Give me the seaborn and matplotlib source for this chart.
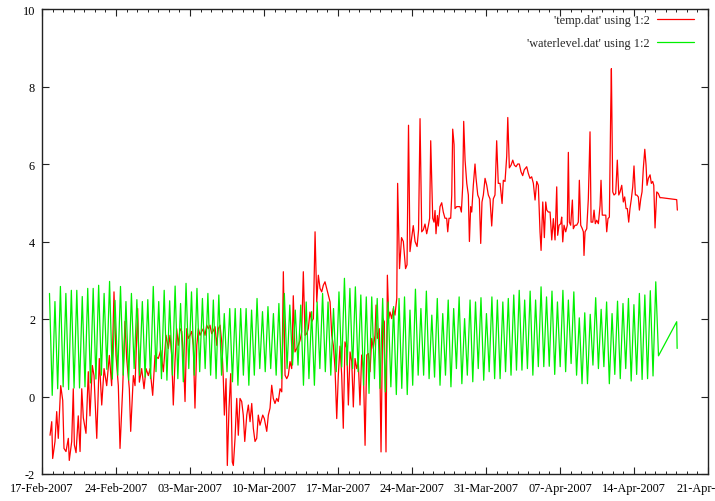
import numpy as np
import pandas as pd
import matplotlib
matplotlib.use("Agg")
import matplotlib.pyplot as plt
import matplotlib.dates as mdates
import seaborn as sns

# ---------------- data ----------------
start = pd.Timestamp("2007-02-17")

temp_days = [0.76, 0.92, 1.01, 1.23, 1.39, 1.54, 1.77, 1.96, 2.08, 2.27, 2.49, 2.58, 2.81, 2.96, 3.06, 3.22,
             3.43, 3.60, 3.76, 3.91, 4.16, 4.38, 4.54, 4.76, 4.92, 5.18, 5.42, 5.65, 5.87, 6.12, 6.37, 6.59,
             6.81, 7.00, 7.22, 7.38, 7.63, 7.85, 8.01, 8.26, 8.39, 8.64, 8.80, 9.05, 9.21, 9.43, 9.65, 9.84,
             10.06, 10.22, 10.47, 10.69, 11.00, 11.23, 11.48, 11.73, 11.95, 12.11, 12.27, 12.42, 12.58, 12.74,
             12.89, 13.06, 13.22, 13.37, 13.53, 13.69, 13.84, 14.00, 14.16, 14.31, 14.47, 14.64, 14.79, 14.95,
             15.11, 15.26, 15.42, 15.58, 15.73, 15.89, 16.05, 16.21, 16.37, 16.53, 16.68, 16.84, 17.00, 17.15,
             17.25, 17.41, 17.53, 17.69, 17.85, 18.00, 18.10, 18.26, 18.42, 18.57, 18.73, 18.89, 19.04, 19.18,
             19.37, 19.52, 19.68, 19.84, 19.99, 20.15, 20.31, 20.46, 20.62, 20.88, 21.03, 21.26, 21.41, 21.57,
             21.73, 21.88, 22.04, 22.20, 22.35, 22.52, 22.68, 22.83, 22.99, 23.15, 23.30, 23.46, 23.62, 23.77,
             23.93, 24.10, 24.25, 24.41, 24.57, 24.72, 24.88, 25.04, 25.19, 25.35, 25.51, 25.67, 25.83, 25.99,
             26.14, 26.30, 26.46, 26.61, 26.77, 26.93, 27.08, 27.25, 27.41, 27.56, 27.72, 27.88, 28.03, 28.19,
             28.35, 28.50, 28.66, 28.83, 28.98, 29.14, 29.30, 29.45, 29.61, 29.77, 29.92, 30.08, 30.24, 30.40,
             30.56, 30.72, 30.87, 31.03, 31.19, 31.34, 31.50, 31.60, 31.72, 31.91, 32.07, 32.23, 32.38, 32.54,
             32.67, 32.80, 32.92, 33.08, 33.23, 33.39, 33.56, 33.64, 33.82, 34.01, 34.18, 34.39, 34.53, 34.67,
             34.81, 34.97, 35.12, 35.29, 35.48, 35.62, 35.76, 35.92, 36.07, 36.23, 36.39, 36.54, 36.67, 36.77,
             36.96, 37.08, 37.18, 37.27, 37.40, 37.49, 37.65, 37.81, 37.96, 38.12, 38.28, 38.38, 38.50, 38.66,
             38.76, 38.85, 38.98, 39.07, 39.23, 39.38, 39.54, 39.67, 39.80, 39.89, 40.02, 40.18, 40.33, 40.43,
             40.55, 40.65, 40.80, 40.96, 41.06, 41.22, 41.37, 41.50, 41.62, 41.75, 41.91, 42.07, 42.22, 42.38,
             42.54, 42.69, 42.85, 43.01, 43.16, 43.33, 43.52, 43.64, 43.80, 43.96, 44.06, 44.21, 44.37, 44.53,
             44.68, 44.84, 45.00, 45.15, 45.31, 45.47, 45.62, 45.85, 46.00, 46.16, 46.32, 46.48, 46.64, 46.80,
             46.95, 47.11, 47.21, 47.37, 47.52, 47.65, 47.75, 47.90, 48.06, 48.22, 48.37, 48.53, 48.69, 48.78,
             48.91, 49.07, 49.16, 49.26, 49.38, 49.54, 49.69, 49.79, 49.88, 50.01, 50.17, 50.26, 50.42, 50.58,
             50.73, 50.83, 50.96, 51.11, 51.21, 51.27, 51.37, 51.53, 51.68, 51.84, 51.94, 52.10, 52.22, 52.34,
             52.47, 52.63, 52.79, 52.88, 53.00, 53.17, 53.33, 53.42, 53.54, 53.67, 53.80, 53.86, 53.99, 54.11,
             54.27, 54.42, 54.56, 54.68, 54.84, 54.99, 55.12, 55.25, 55.37, 55.50, 55.62, 55.75, 55.88, 56.00,
             56.13, 56.26, 56.41, 56.51, 56.64, 56.76, 56.88, 57.02, 57.14, 57.23, 57.36, 57.52, 57.64, 57.77,
             57.87, 57.99, 58.15, 58.30, 58.46, 58.62, 60.04, 60.10]

temp_vals = [-1.0, -0.65, -1.6, -1.16, -0.39, -1.08, 0.28, -0.1, -1.34, -1.42, -1.08, -1.65, -1.16, 0.2, -1.25, -1.45,
             -0.5, -1.42, 0.2, -0.55, -0.95, 0.64, -0.5, 0.8, 0.54, -1.08, 0.98, -0.22, 0.72, 0.28, 1.06, 0.28,
             2.7, 1.06, 0.28, -1.34, 0.2, 1.94, 0.98, 0.2, -0.9, 0.54, 0.28, 2.27, 0.37, 0.72, 0.2, 0.72,
             0.54, 0.72, 0.03, 1.06, 0.98, 1.19, 0.64, 1.58, 1.24, 1.58, 1.06, -0.22, 0.9, 1.75,
             1.32, 1.75, 1.68, 1.06, -0.13, 1.75, 1.5, 1.58, 1.68, 1.32, -0.3, 1.32, 1.75, 1.58,
             1.68, 1.75, 1.58, 1.84, 1.75, 1.84, 1.62, 1.7, 1.8, 1.32, 1.75, 1.84, 1.41, 0.46,
             -0.48, 0.46, -1.78, -0.3, 0.59, -1.69, -1.78, -1.08, -0.05, -1.0, -0.05, -0.13, -0.48, -1.16,
             -0.48, -0.22, -0.65, -0.18, -0.82, -1.16, -1.08, -0.48, -0.74, -0.48, -0.57, -0.9, -0.48, -0.3,
             0.29, -0.05, -0.18, -0.05, -0.13, 0.2, 0.12, 3.22, 0.55, 0.46, 0.55, 0.9, 0.72, 2.6,
             1.15, 1.24, 1.32, 1.45, 1.67, 3.22, 1.58, 1.62, 1.75, 2.18, 1.93, 2.01, 4.25, 2.44,
             3.13, 2.79, 2.7, 2.87, 2.96, 2.79, 2.62, 2.44, 1.58, 1.32, 0.72, -0.57, 0.55, 1.3,
             0.55, -0.82, 1.41, 1.24, -0.22, 1.15, 0.9, -0.27, 0.98, 0.72, 0.9, -0.22, 1.07, 0.72,
             -1.26, 1.07, 1.11, 0.64, 1.5, 1.24, 1.58, 2.36, 1.5, 1.75, -1.43, 2.01, 1.93, -1.43,
             3.13, 2.01, 2.18, 2.01, 2.27, 2.1, 2.53, 5.5, 3.3, 4.1, 4.0, 3.3, 3.4, 7.0,
             3.74, 4.1, 4.41, 4.0, 3.87, 4.3, 7.17, 4.25, 4.3, 4.45, 4.2, 4.4, 4.6, 6.6,
             4.6, 4.5, 4.8, 4.2, 4.67, 4.4, 4.9, 5.0, 4.76, 4.6, 4.6, 4.25, 4.6, 4.6,
             5.2, 6.9, 6.5, 4.85, 4.9, 4.9, 4.9, 4.76, 5.45, 7.1, 6.1, 5.5, 5.2, 4.0,
             4.9, 4.76, 5.45, 6.0, 5.63, 5.2, 5.1, 3.95, 5.02, 5.2, 5.63, 5.45, 5.2, 5.1,
             4.4, 5.1, 5.2, 6.6, 5.5, 5.5, 4.98, 5.58, 5.55, 6.2, 7.2, 5.9, 5.97, 6.1,
             5.97, 5.93, 6.0, 6.0, 5.8, 5.7, 5.85, 5.93, 5.76, 5.63, 5.67, 5.5, 5.07, 5.55,
             5.45, 4.25, 3.77, 5.02, 4.1, 5.02, 4.81, 4.76, 4.76, 4.04, 4.59, 4.04, 5.41, 4.16,
             4.42, 4.46, 4.63, 3.99, 4.42, 4.25, 4.42, 6.3, 4.5, 4.42, 5.07, 4.33, 4.42, 4.42,
             4.5, 5.58, 4.42, 4.33, 4.25, 3.64, 4.25, 4.33, 5.1, 6.83, 4.5, 4.5, 4.81, 4.46,
             4.55, 4.46, 4.93, 5.58, 4.68, 4.68, 4.68, 4.25, 4.59, 4.63, 7.43, 8.46, 5.28, 5.2,
             5.24, 6.1, 5.2, 5.28, 5.45, 5.02, 5.15, 4.85, 4.85, 4.5, 4.85, 5.1, 5.41, 5.95,
             5.2, 5.2, 5.15, 4.81, 5.1, 5.28, 5.88, 6.38, 5.97, 5.45, 5.63, 5.72, 5.5, 5.55,
             5.45, 4.35, 5.28, 5.24, 5.13, 5.13, 5.08, 4.81]

# tide: alternating high / low water levels
high_water = [2.66, 2.45, 2.84, 2.66, 2.74, 2.74, 2.58, 2.79, 2.79, 2.87, 2.66, 2.97, 2.48, 2.84, 2.45, 2.66,
              2.50, 2.45, 2.50, 2.84, 2.45, 2.74, 2.47, 2.85,
              2.40, 2.92, 2.70, 2.79, 2.53, 2.66, 2.49, 2.62, 2.14, 2.27, 2.27, 2.27, 2.27, 2.23, 2.53, 2.19,
              2.32, 2.14, 2.40, 2.66, 2.36, 2.23, 2.36, 2.44, 2.19, 2.44, 2.66, 2.44, 2.27,
              2.70, 3.05, 2.79, 2.83, 2.62, 2.57, 2.57, 2.53, 2.53, 2.44, 2.32, 2.53, 2.57, 2.23, 2.77, 2.27,
              2.72, 2.10, 2.53, 2.14, 2.49, 2.27, 2.57, 2.01, 2.49, 2.44, 2.55, 2.14, 2.57, 2.49, 2.44, 2.53, 2.62,
              2.74, 2.49, 2.72, 2.49, 2.83, 2.57, 2.72, 2.44, 2.74, 2.49, 2.70, 2.03, 2.16, 2.12, 2.55, 2.25,
              2.44, 2.14, 2.46, 2.40, 2.53, 2.37, 2.66, 2.62, 2.73, 2.96]
low_water = [0.03, 0.20, 0.25, 0.18, 0.22, 0.22, 0.25, 0.35, 0.45, 0.55, 0.70, 0.45, 0.55, 0.55, 0.42, 0.72,
             0.55, 0.50, 0.46, 0.64, 0.46, 0.42, 0.55,
             0.46, 0.38, 0.72, 0.55, 0.64, 0.72, 0.55, 0.46, 0.55, 0.64, 0.38, 0.29, 0.55, 0.29, 0.55, 0.72,
             0.64, 0.72, 0.55, 0.46, 0.72, 0.81, 0.81, 0.29, 0.46, 0.29, 0.72, 0.64, 0.55, 0.64, 0.76,
             0.81, 0.72, 0.64, 0.29, 0.08, 0.46, 0.21, 0.12, 0.25, 0.05, 0.21, 0.05, 0.29, 0.55, 0.55, 0.46,
             0.50, 0.29, 0.55, 0.25, 0.72, 0.33, 0.55, 0.38, 0.72, 0.42, 0.64, 0.46, 0.46, 0.64, 0.55,
             0.68, 0.68, 0.72, 0.55, 0.77, 0.77, 0.78, 0.57, 0.77, 0.64, 0.85, 0.55, 0.33, 0.33, 0.81, 0.72,
             0.77, 0.33, 0.57, 0.46, 0.72, 0.40, 0.57, 0.44, 0.46, 0.53, 1.05]
tide_start = "2007-02-17 17:00"
tide_step = "372min"
tail_days = [60.04, 60.08]
tail_vals = [1.93, 1.24]

x_ticks = pd.date_range("2007-02-17", "2007-04-21", freq="7D")
x_min, x_max = pd.Timestamp("2007-02-17"), pd.Timestamp("2007-04-21")
y_ticks = [-2, 0, 2, 4, 6, 8, 10]

# ---------------- build frames ----------------
temp_df = pd.DataFrame({"time": start + pd.to_timedelta(temp_days, unit="D"), "value": temp_vals})
tide_vals = np.column_stack([high_water, low_water]).ravel()
tide_times = pd.date_range(tide_start, periods=len(tide_vals), freq=tide_step)
wl_df = pd.DataFrame({"time": list(tide_times) + list(start + pd.to_timedelta(tail_days, unit="D")),
                      "value": list(tide_vals) + tail_vals})

# ---------------- style ----------------
sns.set_style("ticks")
plt.rcParams["font.family"] = ["Liberation Serif", "DejaVu Serif"]
plt.rcParams["axes.unicode_minus"] = False

fig = plt.figure(figsize=(7.15, 5.02), dpi=100)
ax = fig.add_axes([42 / 715, 27 / 502, 666 / 715, 465 / 502])

sns.lineplot(data=temp_df, x="time", y="value", ax=ax, color="#ff0000", lw=0.9,
             estimator=None, sort=False, label="'temp.dat' using 1:2")
sns.lineplot(data=wl_df, x="time", y="value", ax=ax, color="#00f000", lw=0.9,
             estimator=None, sort=False, label="'waterlevel.dat' using 1:2")

ax.set_xlim(x_min, x_max)
ax.set_ylim(-2, 10)
ax.set_xticks(x_ticks)
ax.xaxis.set_major_formatter(mdates.DateFormatter("%d-%b-%Y"))
ax.xaxis.set_minor_locator(mdates.DayLocator())
ax.set_yticks(y_ticks)
ax.set_xlabel("")
ax.set_ylabel("")

for s in ax.spines.values():
    s.set_visible(True)
    s.set_linewidth(1.0)
    s.set_color("#222222")

ax.tick_params(which="major", direction="in", length=5, width=0.8, labelsize=8.8,
               top=True, right=True, colors="#222222", labelcolor="black")
ax.tick_params(axis="x", which="major", pad=6)
ax.tick_params(axis="y", which="major", pad=5)
ax.tick_params(axis="x", which="minor", direction="in", length=2.5, width=0.7, top=True,
               colors="#222222")

leg = ax.legend(loc="upper right", bbox_to_anchor=(0.995, 1.012), frameon=False, markerfirst=False,
                handlelength=3.0, handletextpad=0.6, fontsize=8.8, labelspacing=0.85)

fig.savefig("out.png", dpi=100)
